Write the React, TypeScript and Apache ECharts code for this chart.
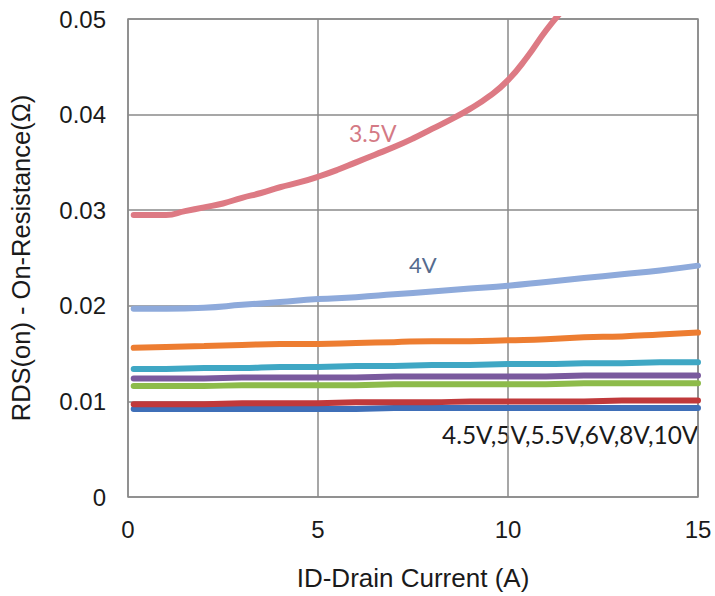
import React, { useEffect, useRef } from "react";
import * as echarts from "echarts";

const X_COMMON = [0.15, 1, 2, 3, 4, 5, 6, 7, 8, 9, 10, 11, 12, 13, 14, 15];
const X_35V = [0.15, 0.5, 1, 1.5, 2, 2.5, 3, 3.5, 4, 4.5, 5, 5.5, 6, 6.5, 7, 7.5, 8, 8.5, 9, 9.5, 10, 10.5, 11, 11.5];
const V_35V = [0.0295, 0.0295, 0.0295, 0.0299, 0.0303, 0.0307, 0.0313, 0.0318, 0.0324, 0.0329, 0.0335, 0.0342, 0.035, 0.0358, 0.0366, 0.0375, 0.0385, 0.0395, 0.0406, 0.0419, 0.0436, 0.046, 0.0488, 0.0512];
const V_4V = [0.0197, 0.0197, 0.0198, 0.0201, 0.0204, 0.0207, 0.0209, 0.0212, 0.0215, 0.0218, 0.0221, 0.0225, 0.0229, 0.0233, 0.0237, 0.0242];
const V_45V = [0.0156, 0.0157, 0.0158, 0.0159, 0.016, 0.016, 0.0161, 0.0162, 0.0163, 0.0163, 0.0164, 0.0165, 0.0167, 0.0168, 0.017, 0.0172];
const V_5V = [0.0134, 0.0134, 0.0135, 0.0135, 0.0136, 0.0136, 0.0137, 0.0137, 0.0138, 0.0138, 0.0139, 0.0139, 0.014, 0.014, 0.0141, 0.0141];
const V_55V = [0.0124, 0.0124, 0.0124, 0.0125, 0.0125, 0.0125, 0.0125, 0.0126, 0.0126, 0.0126, 0.0126, 0.0126, 0.0127, 0.0127, 0.0127, 0.0127];
const V_6V = [0.0116, 0.0116, 0.0116, 0.0117, 0.0117, 0.0117, 0.0117, 0.0118, 0.0118, 0.0118, 0.0118, 0.0118, 0.0119, 0.0119, 0.0119, 0.0119];
const V_8V = [0.0097, 0.0097, 0.0097, 0.0098, 0.0098, 0.0098, 0.0099, 0.0099, 0.0099, 0.01, 0.01, 0.01, 0.01, 0.0101, 0.0101, 0.0101];
const V_10V = [0.0092, 0.0092, 0.0092, 0.0092, 0.0092, 0.0092, 0.0092, 0.0093, 0.0093, 0.0093, 0.0093, 0.0093, 0.0093, 0.0093, 0.0093, 0.0093];

const SERIES_NAMES = ["3.5V", "4V", "4.5V", "5V", "5.5V", "6V", "8V", "10V"];
const SERIES_COLORS = ["#dd7a84", "#8eaadb", "#ed7d31", "#3fa7c4", "#7a5a9e", "#8dbb4a", "#c0393b", "#3f6fb8"];
const ANNOTATIONS = ["3.5V", "4V", "4.5V,5V,5.5V,6V,8V,10V"];

const zip = (xs: number[], ys: number[]) => ys.map((y, i) => [xs[i], y]);

export default function App() {
  const ref = useRef<HTMLDivElement>(null);
  useEffect(() => {
    if (!ref.current) return;
    const chart = echarts.init(ref.current, undefined, { renderer: "svg" });
    const seriesData = [
      zip(X_35V, V_35V),
      zip(X_COMMON, V_4V),
      zip(X_COMMON, V_45V),
      zip(X_COMMON, V_5V),
      zip(X_COMMON, V_55V),
      zip(X_COMMON, V_6V),
      zip(X_COMMON, V_8V),
      zip(X_COMMON, V_10V),
    ];
    const font = "Liberation Sans, Arial, sans-serif";
    chart.setOption({
      animation: false,
      backgroundColor: "#ffffff",
      grid: { left: 125, right: 17, top: 19, bottom: 99, show: true, borderColor: "#8a8a8a", borderWidth: 1.5 },
      xAxis: {
        type: "value",
        min: 0,
        max: 15,
        interval: 5,
        name: "ID-Drain Current (A)",
        nameLocation: "middle",
        nameGap: 68,
        nameTextStyle: { fontFamily: font, fontSize: 26, color: "#1a1a1a" },
        axisLine: { show: false },
        axisTick: { show: false },
        axisLabel: { fontFamily: font, fontSize: 24, color: "#1a1a1a", margin: 20 },
        splitLine: { show: true, lineStyle: { color: "#8a8a8a", width: 1.5 } },
      },
      yAxis: {
        type: "value",
        min: 0,
        max: 0.05,
        interval: 0.01,
        name: "RDS(on) - On-Resistance(Ω)",
        nameLocation: "middle",
        nameGap: 94,
        nameTextStyle: { fontFamily: font, fontSize: 25.5, color: "#1a1a1a" },
        axisLine: { show: false },
        axisTick: { show: false },
        axisLabel: {
          fontFamily: font,
          fontSize: 24,
          color: "#1a1a1a",
          margin: 22,
          formatter: (v: number) => (v === 0 ? "0" : v.toFixed(2)),
        },
        splitLine: { show: true, lineStyle: { color: "#8a8a8a", width: 1.5 } },
      },
      series: seriesData.map((d, i) => ({
        name: SERIES_NAMES[i],
        type: "line",
        data: d,
        smooth: true,
        showSymbol: false,
        clip: true,
        lineStyle: { color: SERIES_COLORS[i], width: 6, cap: "round" },
        z: 10 - i,
      })),
      graphic: [
        { type: "text", left: 349, top: 121, style: { text: ANNOTATIONS[0], fontFamily: "Lato, sans-serif", fontSize: 23, fill: "#d47a85" } },
        { type: "text", left: 409, top: 253, style: { text: ANNOTATIONS[1], fontFamily: "Lato, sans-serif", fontSize: 22, fill: "#556b8e" } },
        { type: "text", left: 442, top: 422, style: { text: ANNOTATIONS[2], fontFamily: "Lato, sans-serif", fontSize: 24.4, fill: "#1a1a1a" } },
      ],
    });
    return () => chart.dispose();
  }, []);
  return <div ref={ref} style={{ width: 715, height: 596, position: "absolute", left: 0, top: 0 }} />;
}
